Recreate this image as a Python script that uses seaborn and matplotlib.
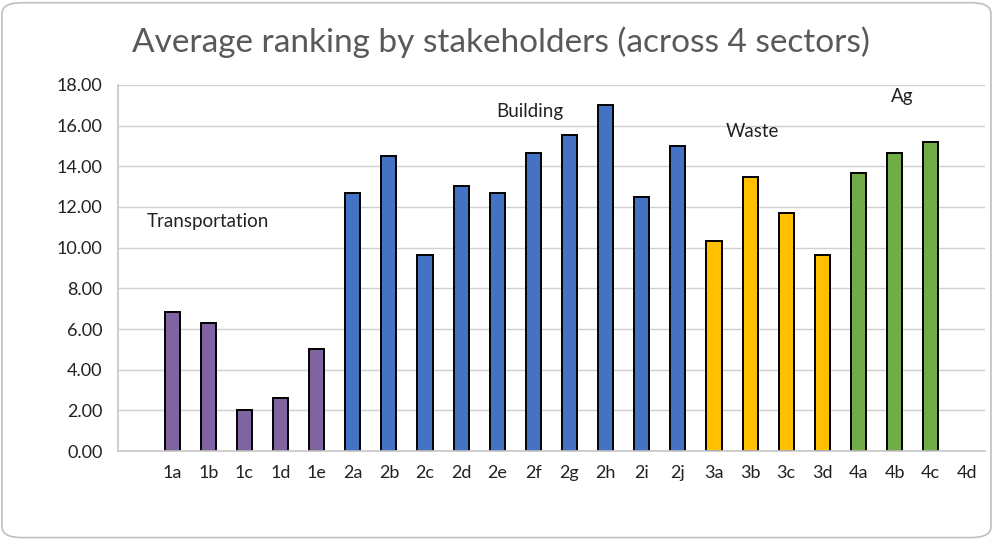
import matplotlib
matplotlib.use("Agg")
import matplotlib.pyplot as plt
import seaborn as sns
import pandas as pd
import numpy as np
from matplotlib.patches import FancyBboxPatch

sns.set_theme(style="white")
plt.rcParams['font.family'] = ['Lato', 'DejaVu Sans']

# ---- data ----
order = ["", "1a", "1b", "1c", "1d", "1e",
         "2a", "2b", "2c", "2d", "2e", "2f", "2g", "2h", "2i", "2j",
         "3a", "3b", "3c", "3d", "4a", "4b", "4c", "4d"]
labels = ["1a", "1b", "1c", "1d", "1e",
          "2a", "2b", "2c", "2d", "2e", "2f", "2g", "2h", "2i", "2j",
          "3a", "3b", "3c", "3d", "4a", "4b", "4c"]
values = [6.85, 6.28, 2.02, 2.59, 5.02,
          12.67, 14.53, 9.64, 13.02, 12.67, 14.67, 15.52, 17.02, 12.49, 15.00,
          10.35, 13.49, 11.69, 9.64, 13.66, 14.67, 15.20]
sectors = ["Transportation"] * 5 + ["Building"] * 10 + ["Waste"] * 4 + ["Ag"] * 3
sector_names = ["Transportation", "Building", "Waste", "Ag"]
sector_colors = ["#8064A2", "#4472C4", "#FFC000", "#70AD47"]
# annotation positions (category index, value)
annot_x = [2.0, 10.9, 17.05, 21.2]
annot_y = [11.3, 16.7, 15.7, 17.45]
title = "Average ranking by stakeholders (across 4 sectors)"

df = pd.DataFrame({"cat": labels, "value": values, "sector": sectors})

fig = plt.figure(figsize=(10.04, 5.43), dpi=100)
ax = fig.add_axes([0.1175, 0.1694, 0.981 - 0.1175, 0.8435 - 0.1694])

sns.barplot(data=df, x="cat", y="value", hue="sector", order=order,
            hue_order=sector_names, palette=dict(zip(sector_names, sector_colors)),
            dodge=False, width=0.42, edgecolor="black", linewidth=1.4,
            saturation=1, legend=False, ax=ax)

ax.set_ylim(0, 18)
ax.set_xlim(-0.5, len(order) - 0.5)
ax.set_yticks(np.arange(0, 18.01, 2))
ax.set_yticklabels([f"{v:.2f}" for v in np.arange(0, 18.01, 2)])
ax.yaxis.grid(True, color="#d0d0d0", linewidth=1.0)
ax.set_axisbelow(True)
ax.set_xlabel("")
ax.set_ylabel("")
for s in ["top", "right"]:
    ax.spines[s].set_visible(False)
ax.spines["left"].set_color("#c8c8c8")
ax.spines["bottom"].set_color("#c8c8c8")
ax.tick_params(axis="both", length=0, labelsize=13, colors="#222222")
ax.tick_params(axis="x", pad=10)
ax.tick_params(axis="y", pad=11)

for name, xx, yy in zip(sector_names, annot_x, annot_y):
    ax.text(xx, yy, name, ha="center", va="center", fontsize=13.5, color="#222222")

fig.text(0.499, 0.922, title, ha="center", va="center", fontsize=24, color="#595959")

border = FancyBboxPatch((0.002, 0.01), 0.985, 0.985, boxstyle="round,pad=0,rounding_size=0.02",
                        transform=fig.transFigure, fill=False, edgecolor="#bfbfbf", linewidth=1.2)
fig.patches.append(border)

fig.savefig("out.png", dpi=100)
